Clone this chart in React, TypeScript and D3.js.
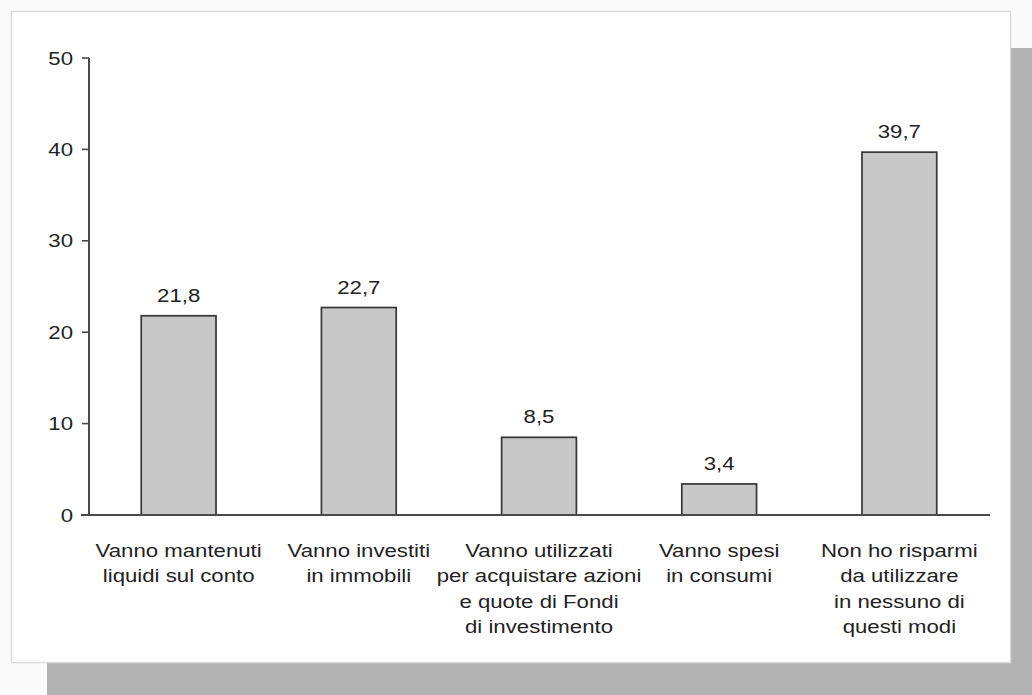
import React, { useEffect, useRef } from "react";
import * as d3 from "d3";

const categories = [
  ["Vanno mantenuti", "liquidi sul conto"],
  ["Vanno investiti", "in immobili"],
  ["Vanno utilizzati", "per acquistare azioni", "e quote di Fondi", "di investimento"],
  ["Vanno spesi", "in consumi"],
  ["Non ho risparmi", "da utilizzare", "in nessuno di", "questi modi"],
];
const values = [21.8, 22.7, 8.5, 3.4, 39.7];
const valueLabels = ["21,8", "22,7", "8,5", "3,4", "39,7"];
const yTicks = [0, 10, 20, 30, 40, 50];

const W = 1032;
const H = 695;
const FONT = "'Liberation Sans', Arial, Helvetica, sans-serif";
const STRETCH = 1.2; // the scan is a bit wider than tall

const App = () => {
  const svgRef = useRef<SVGSVGElement>(null);

  useEffect(() => {
    const svg = d3.select(svgRef.current);
    svg.selectAll("*").remove();

    const margin = { left: 89, right: 43, top: 58, bottom: 180 };

    // shadow + panel
    svg.append("rect").attr("x", 0).attr("y", 0).attr("width", W).attr("height", H).attr("fill", "#fbfbfb");
    svg.append("rect").attr("x", 47).attr("y", 48).attr("width", W - 47).attr("height", H - 48).attr("fill", "#b2b2b2");
    svg
      .append("rect")
      .attr("x", 11.5)
      .attr("y", 11.5)
      .attr("width", 999)
      .attr("height", 651)
      .attr("fill", "#ffffff")
      .attr("stroke", "#dcdcdc")
      .attr("stroke-width", 1.5);

    const x = d3
      .scaleBand<number>()
      .domain(values.map((_, i) => i))
      .range([margin.left, W - margin.right])
      .paddingInner(0.585)
      .paddingOuter(0.29);

    const y = d3
      .scaleLinear()
      .domain([0, 50])
      .range([H - margin.bottom, margin.top]);

    const ink = "#222222";
    const axisColor = "#4a4a4a";

    // bars
    svg
      .selectAll(".bar")
      .data(values)
      .join("rect")
      .attr("class", "bar")
      .attr("x", (_, i) => x(i)!)
      .attr("y", (d) => y(d))
      .attr("width", x.bandwidth())
      .attr("height", (d) => y(0) - y(d))
      .attr("fill", "#c8c8c8")
      .attr("stroke", "#363636")
      .attr("stroke-width", 1.7);

    // y axis
    svg
      .append("line")
      .attr("x1", margin.left)
      .attr("x2", margin.left)
      .attr("y1", y(50))
      .attr("y2", y(0))
      .attr("stroke", axisColor)
      .attr("stroke-width", 2);
    // x axis
    svg
      .append("line")
      .attr("x1", margin.left - 8)
      .attr("x2", 990)
      .attr("y1", y(0))
      .attr("y2", y(0))
      .attr("stroke", axisColor)
      .attr("stroke-width", 2.2);

    const ticks = svg.selectAll(".tick").data(yTicks).join("g").attr("class", "tick");
    ticks
      .append("line")
      .attr("x1", margin.left - 7)
      .attr("x2", margin.left)
      .attr("y1", (d) => y(d))
      .attr("y2", (d) => y(d))
      .attr("stroke", axisColor)
      .attr("stroke-width", 1.6);
    ticks
      .append("text")
      .attr("transform", (d) => `translate(${margin.left - 16},${y(d) + 6.5}) scale(${STRETCH},1)`)
      .attr("text-anchor", "end")
      .attr("font-family", FONT)
      .attr("font-size", 18.5)
      .attr("fill", ink)
      .text((d) => d);

    // value labels
    svg
      .selectAll(".value")
      .data(values)
      .join("text")
      .attr("class", "value")
      .attr("transform", (d, i) => `translate(${x(i)! + x.bandwidth() / 2},${y(d) - 14}) scale(${STRETCH},1)`)
      .attr("text-anchor", "middle")
      .attr("font-family", FONT)
      .attr("font-size", 18.5)
      .attr("fill", ink)
      .text((_, i) => valueLabels[i]);

    // category labels
    const cats = svg
      .selectAll(".cat")
      .data(categories)
      .join("g")
      .attr("class", "cat")
      .attr("transform", (_, i) => `translate(${x(i)! + x.bandwidth() / 2},${y(0) + 42})`);
    cats
      .selectAll("text")
      .data((d) => d)
      .join("text")
      .attr("transform", (_, j) => `translate(0,${j * 25.3}) scale(${STRETCH},1)`)
      .attr("text-anchor", "middle")
      .attr("font-family", FONT)
      .attr("font-size", 18.5)
      .attr("fill", ink)
      .text((d) => d);
  }, []);

  return (
    <svg
      ref={svgRef}
      width={W}
      height={H}
      style={{ position: "absolute", left: 0, top: 0, display: "block" }}
    />
  );
};

export default App;
